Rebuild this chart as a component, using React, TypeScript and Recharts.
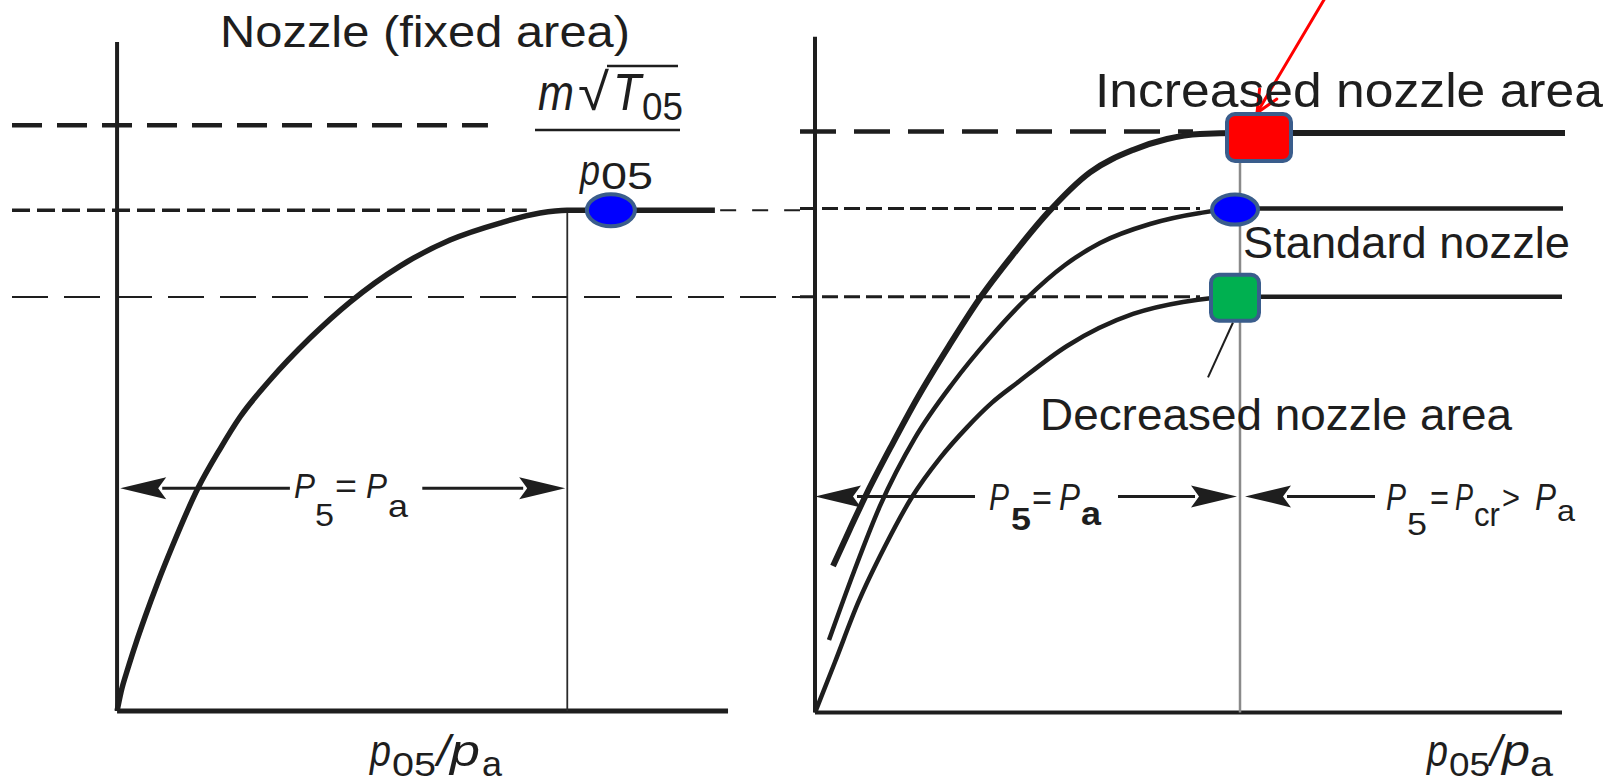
import React from 'react';
import { ComposedChart, Line, Scatter, XAxis, YAxis, ReferenceLine } from 'recharts';

// ---------------- Left panel: nozzle of fixed area ----------------
// x = p05/pa (pressure ratio), y = m*sqrt(T05)/p05 relative to the standard choked value
const leftX = [1.0, 1.0075, 1.0208, 1.036, 1.0532, 1.0779, 1.1046, 1.1541, 1.1959, 1.234, 1.2911, 1.3673, 1.4434, 1.5386, 1.6338, 1.7289, 1.8051, 1.8565, 2.138];
const leftY = [0, 0.0377, 0.0857, 0.1356, 0.1876, 0.2575, 0.3274, 0.4452, 0.5231, 0.587, 0.6609, 0.7448, 0.8167, 0.8886, 0.9406, 0.9745, 0.9945, 1.0, 1.0];
const leftChokeX = 1.857;
const leftAxisTopY = 1.336;
const leftAxisEndX = 2.163;
const leftGuideTopY = 1.17;
const leftGuideMidY = 1.0;
const leftGuideLowY = 0.827;
const leftArrowY = 0.445;
const leftMarkerX = [1.94];
const leftMarkerY = [1.0];
const leftMarkerNames = ['standard'];

// ---------------- Right panel: variable nozzle area ----------------
const incX = [1.036, 1.07, 1.104, 1.155, 1.206, 1.268, 1.33, 1.397, 1.464, 1.55, 1.636, 1.704, 1.77, 1.85, 2.5];
const incY = [0.2909, 0.3645, 0.4357, 0.5333, 0.6262, 0.7277, 0.8226, 0.91, 0.99, 1.072, 1.1163, 1.1381, 1.148, 1.15, 1.15];
const stdX = [1.028, 1.078, 1.13, 1.2, 1.276, 1.35, 1.424, 1.5, 1.57, 1.67, 1.77, 1.85, 2.496];
const stdY = [0.1441, 0.28, 0.41, 0.545, 0.654, 0.744, 0.8226, 0.8881, 0.9317, 0.9694, 0.9913, 1.0, 1.0];
const decX = [1.0, 1.04, 1.086, 1.14, 1.194, 1.25, 1.304, 1.354, 1.404, 1.504, 1.636, 1.736, 1.85, 2.494];
const decY = [0, 0.1004, 0.2175, 0.33, 0.4278, 0.505, 0.566, 0.615, 0.654, 0.7274, 0.7909, 0.8147, 0.825, 0.825];
const rightChokeX = 1.85;
const rightAxisTopY = 1.341;
const rightAxisEndX = 2.494;
const rightGuideTopY = 1.153;
const rightArrowY = 0.429;
const rightMarkerX = [1.888, 1.84, 1.84];
const rightMarkerY = [1.141, 0.998, 0.823];
const rightMarkerNames = ['increased', 'standard', 'decreased'];

const toPts = (xs: number[], ys: number[]) => xs.map((x, i) => ({ x, y: ys[i] }));
const leftCurve = toPts(leftX, leftY);
const incCurve = toPts(incX, incY);
const stdCurve = toPts(stdX, stdY);
const decCurve = toPts(decX, decY);
const leftMarkers = leftMarkerX.map((x, i) => ({ x, y: leftMarkerY[i], name: leftMarkerNames[i] }));
const rightMarkers = rightMarkerX.map((x, i) => ({ x, y: rightMarkerY[i], name: rightMarkerNames[i] }));

const INK = '#1e1e1e';
const FONT = '"Liberation Sans", Arial, Helvetica, sans-serif';
const OUTLINE = '#3A5D8C';

const markerStyles: Record<string, any> = {
  standard: { type: 'ellipse', fill: '#0000FF' },
  increased: { type: 'rect', fill: '#FF0000', w: 64, h: 47 },
  decreased: { type: 'rect', fill: '#00B050', w: 48, h: 46 },
};

const leftMarkerShape = (p: any) => {
  const { cx, cy } = p;
  return <ellipse cx={cx} cy={cy} rx={24} ry={16} fill="#0000FF" stroke={OUTLINE} strokeWidth={4} />;
};

const rightMarkerShape = (p: any) => {
  const { cx, cy, payload } = p;
  const st = markerStyles[payload?.name] || markerStyles.standard;
  if (st.type === 'ellipse') {
    return <ellipse cx={cx} cy={cy} rx={23} ry={15} fill={st.fill} stroke={OUTLINE} strokeWidth={4} />;
  }
  return (
    <rect x={cx - st.w / 2} y={cy - st.h / 2} width={st.w} height={st.h} rx={8} ry={8}
      fill={st.fill} stroke={OUTLINE} strokeWidth={4} />
  );
};

// Arrow drawn from (x1,y1) to (x2,y2), head at (x2,y2)
const makeArrow = (filled: boolean, len: number, half: number, color: string, width: number) => (p: any) => {
  const { x1, y1, x2, y2 } = p;
  const dx = x2 - x1, dy = y2 - y1;
  const L = Math.hypot(dx, dy) || 1;
  const ux = dx / L, uy = dy / L;
  const bx = x2 - ux * len, by = y2 - uy * len;
  const px = -uy, py = ux;
  if (filled) {
    return (
      <g>
        <line x1={x1} y1={y1} x2={bx + ux * 4} y2={by + uy * 4} stroke={color} strokeWidth={width} />
        <polygon points={`${x2},${y2} ${bx + px * half},${by + py * half} ${bx + ux * 8},${by + uy * 8} ${bx - px * half},${by - py * half}`} fill={color} />
      </g>
    );
  }
  return (
    <g fill="none" stroke={color} strokeWidth={width} strokeLinecap="round">
      <line x1={x1} y1={y1} x2={x2} y2={y2} />
      <polyline points={`${bx + px * half},${by + py * half} ${x2},${y2} ${bx - px * half},${by - py * half}`} />
    </g>
  );
};

const blackArrow = makeArrow(true, 46, 11, INK, 3);
const redArrow = makeArrow(false, 22, 10, '#FF0000', 3);

type Part = { t: string; x: number; y: number; w?: number; s: number; it?: boolean; b?: boolean };
const Eq = ({ parts }: { parts: Part[] }) => (
  <text fill={INK} fontFamily={FONT}>
    {parts.map((p, i) => (
      <tspan key={i} x={p.x} y={p.y} fontSize={p.s} fontStyle={p.it ? 'italic' : 'normal'} fontWeight={p.b ? 'bold' : 'normal'}
        textLength={p.w} lengthAdjust={p.w ? 'spacingAndGlyphs' : undefined}>{p.t}</tspan>
    ))}
  </text>
);
const Tx = (p: Part) => <Eq parts={[p]} />;

function LeftPanel() {
  return (
    <ComposedChart width={800} height={783} margin={{ top: 10, right: 0, bottom: 22, left: 12 }}>
      <XAxis type="number" dataKey="x" domain={[0.8, 2.3]} hide allowDataOverflow />
      <YAxis type="number" dataKey="y" domain={[-0.1, 1.4]} hide allowDataOverflow />
      {/* guide lines */}
      <ReferenceLine segment={[{ x: 0.8, y: leftGuideTopY }, { x: 1.706, y: leftGuideTopY }]} stroke={INK} strokeWidth={4.5} strokeDasharray="30 15" />
      <ReferenceLine segment={[{ x: 0.8, y: leftGuideMidY }, { x: 1.78, y: leftGuideMidY }]} stroke={INK} strokeWidth={3.5} strokeDasharray="18 7" />
      <ReferenceLine segment={[{ x: 2.148, y: leftGuideMidY }, { x: 2.3, y: leftGuideMidY }]} stroke={INK} strokeWidth={2} strokeDasharray="16 16" />
      <ReferenceLine segment={[{ x: 0.8, y: leftGuideLowY }, { x: 2.3, y: leftGuideLowY }]} stroke={INK} strokeWidth={2} strokeDasharray="36 16" />
      {/* axes */}
      <ReferenceLine segment={[{ x: 1.0, y: 0 }, { x: 1.0, y: leftAxisTopY }]} stroke={INK} strokeWidth={4} />
      <ReferenceLine segment={[{ x: 1.0, y: 0 }, { x: leftAxisEndX, y: 0 }]} stroke={INK} strokeWidth={5} />
      <ReferenceLine segment={[{ x: leftChokeX, y: 0 }, { x: leftChokeX, y: 1.0 }]} stroke="#2a2a2a" strokeWidth={1.8} />
      {/* arrows */}
      <ReferenceLine segment={[{ x: 1.329, y: leftArrowY }, { x: 1.006, y: leftArrowY }]} stroke={INK} shape={blackArrow} />
      <ReferenceLine segment={[{ x: 1.581, y: leftArrowY }, { x: 1.853, y: leftArrowY }]} stroke={INK} shape={blackArrow} />
      <Line data={leftCurve} dataKey="y" type="monotone" stroke={INK} strokeWidth={5.5} dot={false} activeDot={false} isAnimationActive={false} />
      <Scatter data={leftMarkers} dataKey="y" shape={leftMarkerShape} isAnimationActive={false} />
    </ComposedChart>
  );
}

function RightPanel() {
  return (
    <ComposedChart width={808} height={783} margin={{ top: 7, right: 43, bottom: 20, left: 0 }}>
      <XAxis type="number" dataKey="x" domain={[0.97, 2.5]} hide allowDataOverflow />
      <YAxis type="number" dataKey="y" domain={[-0.1, 1.4]} hide allowDataOverflow />
      {/* guide lines */}
      <ReferenceLine segment={[{ x: 0.97, y: rightGuideTopY }, { x: 1.756, y: rightGuideTopY }]} stroke={INK} strokeWidth={4.5} strokeDasharray="36 18" />
      <ReferenceLine segment={[{ x: 0.97, y: 1.0 }, { x: 1.77, y: 1.0 }]} stroke={INK} strokeWidth={3} strokeDasharray="16 6" />
      <ReferenceLine segment={[{ x: 0.97, y: 0.825 }, { x: 1.77, y: 0.825 }]} stroke={INK} strokeWidth={3} strokeDasharray="16 6" />
      {/* axes */}
      <ReferenceLine segment={[{ x: 1.0, y: 0 }, { x: 1.0, y: rightAxisTopY }]} stroke={INK} strokeWidth={4} />
      <ReferenceLine segment={[{ x: 1.0, y: 0 }, { x: rightAxisEndX, y: 0 }]} stroke={INK} strokeWidth={4} />
      <ReferenceLine segment={[{ x: rightChokeX, y: 0 }, { x: rightChokeX, y: 1.091 }]} stroke="#8a8a8a" strokeWidth={2.5} />
      {/* leader from marker to "Decreased nozzle area" */}
      <ReferenceLine segment={[{ x: 1.836, y: 0.774 }, { x: 1.786, y: 0.665 }]} stroke={INK} strokeWidth={2} />
      {/* arrows */}
      <ReferenceLine segment={[{ x: 1.32, y: rightArrowY }, { x: 1.0, y: rightArrowY }]} stroke={INK} shape={blackArrow} />
      <ReferenceLine segment={[{ x: 1.606, y: rightArrowY }, { x: 1.844, y: rightArrowY }]} stroke={INK} shape={blackArrow} />
      <ReferenceLine segment={[{ x: 2.12, y: rightArrowY }, { x: 1.86, y: rightArrowY }]} stroke={INK} shape={blackArrow} />
      <Line data={decCurve} dataKey="y" type="monotone" stroke={INK} strokeWidth={4.5} dot={false} activeDot={false} isAnimationActive={false} />
      <Line data={stdCurve} dataKey="y" type="monotone" stroke={INK} strokeWidth={4.5} dot={false} activeDot={false} isAnimationActive={false} />
      <Line data={incCurve} dataKey="y" type="monotone" stroke={INK} strokeWidth={6} dot={false} activeDot={false} isAnimationActive={false} />
      <Scatter data={rightMarkers} dataKey="y" shape={rightMarkerShape} isAnimationActive={false} />
      <ReferenceLine ifOverflow="visible" segment={[{ x: 2.022, y: 1.421 }, { x: 1.884, y: 1.19 }]} stroke="#FF0000" shape={redArrow} />
    </ComposedChart>
  );
}

function Labels() {
  return (
    <svg width={1608} height={783} style={{ position: 'absolute', left: 0, top: 0, pointerEvents: 'none' }}>
      <Tx t="Nozzle (fixed area)" x={220} y={47} w={410} s={44} />
      {/* m sqrt(T05) / p05 */}
      <Eq parts={[
        { t: 'm', x: 538, y: 110, w: 36, s: 50, it: true },
        { t: '√', x: 578, y: 110, w: 31, s: 52 },
        { t: 'T', x: 613, y: 110, w: 28, s: 52, it: true },
        { t: '05', x: 642, y: 120, w: 41, s: 38 },
      ]} />
      <line x1={607} y1={66} x2={678} y2={66} stroke={INK} strokeWidth={2.5} />
      <line x1={535} y1={130} x2={680} y2={130} stroke={INK} strokeWidth={2.5} />
      <Eq parts={[
        { t: 'p', x: 580, y: 185, w: 20, s: 42, it: true },
        { t: '05', x: 601, y: 189, w: 52, s: 36 },
      ]} />
      {/* left P5 = Pa */}
      <Eq parts={[
        { t: 'P', x: 294, y: 498, w: 21, s: 35, it: true },
        { t: '5', x: 315, y: 526, w: 19, s: 32 },
        { t: '=', x: 335, y: 498, w: 22, s: 35 },
        { t: 'P', x: 366, y: 498, w: 21, s: 35, it: true },
        { t: 'a', x: 388, y: 517, w: 20, s: 32 },
      ]} />
      {/* left x label */}
      <Eq parts={[
        { t: 'p', x: 370, y: 766, w: 21, s: 44, it: true },
        { t: '05', x: 392, y: 776, w: 44, s: 34 },
        { t: '/', x: 437, y: 766, w: 13, s: 44, it: true },
        { t: 'p', x: 450, y: 766, w: 30, s: 44, it: true },
        { t: 'a', x: 482, y: 776, w: 20, s: 35 },
      ]} />
      {/* right panel texts */}
      <Tx t="Increased nozzle area" x={1095} y={107} w={508} s={49} />
      <Tx t="Standard nozzle" x={1243} y={258} w={327} s={44} />
      <Tx t="Decreased nozzle area" x={1040} y={430} w={472} s={45} />
      {/* right P5 = Pa */}
      <Eq parts={[
        { t: 'P', x: 989, y: 510, w: 20, s: 37, it: true },
        { t: '5', x: 1011, y: 530, w: 20, s: 31, b: true },
        { t: '=', x: 1032, y: 510, w: 20, s: 37 },
        { t: 'P', x: 1059, y: 510, w: 21, s: 37, it: true },
        { t: 'a', x: 1081, y: 525, w: 20, s: 34, b: true },
      ]} />
      {/* P5 = Pcr > Pa */}
      <Eq parts={[
        { t: 'P', x: 1386, y: 510, w: 20, s: 37, it: true },
        { t: '5', x: 1407, y: 535, w: 20, s: 32 },
        { t: '=', x: 1430, y: 510, w: 19, s: 37 },
        { t: 'P', x: 1455, y: 510, w: 18, s: 37, it: true },
        { t: 'cr', x: 1474, y: 526, w: 26, s: 33 },
        { t: '>', x: 1502, y: 509, w: 18, s: 34 },
        { t: 'P', x: 1535, y: 510, w: 21, s: 37, it: true },
        { t: 'a', x: 1557, y: 521, w: 18, s: 30 },
      ]} />
      {/* right x label */}
      <Eq parts={[
        { t: 'p', x: 1427, y: 766, w: 21, s: 44, it: true },
        { t: '05', x: 1449, y: 776, w: 41, s: 34 },
        { t: '/', x: 1490, y: 766, w: 12, s: 44, it: true },
        { t: 'p', x: 1502, y: 766, w: 28, s: 44, it: true },
        { t: 'a', x: 1530, y: 776, w: 23, s: 35 },
      ]} />
    </svg>
  );
}

export default function App() {
  return (
    <div style={{ position: 'absolute', left: 0, top: 0, width: 1608, height: 783, background: '#fff', overflow: 'hidden' }}>
      <div style={{ position: 'absolute', left: 0, top: 0 }}>
        <LeftPanel />
      </div>
      <div style={{ position: 'absolute', left: 800, top: 0 }}>
        <RightPanel />
      </div>
      <Labels />
    </div>
  );
}
